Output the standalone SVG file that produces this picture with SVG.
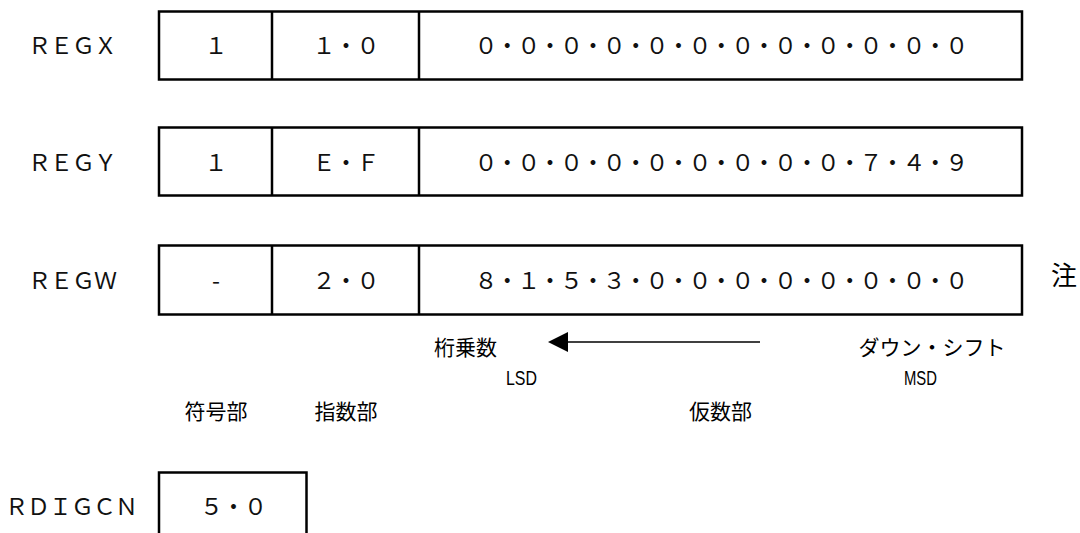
<svg xmlns="http://www.w3.org/2000/svg" width="1080" height="533" viewBox="0 0 1080 533">
<style>
.bg{fill:#fff}
.cell{fill:#fff;stroke:#000;stroke-width:2.5}
.t{font-family:"Noto Sans CJK JP","Noto Sans",sans-serif;font-size:23px;letter-spacing:-1px;fill:#111}
.m{letter-spacing:-1.6px}
.c{text-anchor:middle}
.lbl{font-family:"Noto Sans CJK JP",sans-serif;font-size:21px;fill:#000;text-anchor:middle}
.sd{font-family:"Liberation Sans",sans-serif;font-size:21px;fill:#000}
.conn{stroke:#000;stroke-width:1.5;fill:none}
</style>
<rect class="bg" x="0" y="0" width="1080" height="533"/>

<g id="regx">
<text class="t" x="28" y="54">ＲＥＧＸ</text>
<rect class="cell" x="159" y="11.5" width="863" height="68"/>
<line class="cell" x1="272" y1="11.5" x2="272" y2="79.5"/>
<line class="cell" x1="419" y1="11.5" x2="419" y2="79.5"/>
<text class="t c" x="215.5" y="54">１</text>
<text class="t c" x="345.5" y="54">１・０</text>
<text class="t c m" x="720.5" y="54">０・０・０・０・０・０・０・０・０・０・０・０</text>
</g>

<g id="regy">
<text class="t" x="28" y="171">ＲＥＧＹ</text>
<rect class="cell" x="159" y="127.5" width="863" height="68"/>
<line class="cell" x1="272" y1="127.5" x2="272" y2="195.5"/>
<line class="cell" x1="419" y1="127.5" x2="419" y2="195.5"/>
<text class="t c" x="215.5" y="171">１</text>
<text class="t c" x="345.5" y="171">Ｅ・Ｆ</text>
<text class="t c m" x="720.5" y="171">０・０・０・０・０・０・０・０・０・７・４・９</text>
</g>

<g id="regw">
<text class="t" x="28" y="289">ＲＥＧＷ</text>
<rect class="cell" x="159" y="245.5" width="863" height="69"/>
<line class="cell" x1="272" y1="245.5" x2="272" y2="314.5"/>
<line class="cell" x1="419" y1="245.5" x2="419" y2="314.5"/>
<text class="t c" x="215.5" y="289">-</text>
<text class="t c" x="345.5" y="289">２・０</text>
<text class="t c m" x="720.5" y="289">８・１・５・３・０・０・０・０・０・０・０・０</text>
<text class="lbl" x="1064" y="285" style="font-size:26px">注</text>
</g>

<g id="shift-labels">
<text class="lbl" x="465.5" y="355">桁乗数</text>
<text class="lbl" x="932" y="355">ダウン・シフト</text>
<text class="sd" x="506" y="385" textLength="31" lengthAdjust="spacingAndGlyphs">LSD</text>
<text class="sd" x="904" y="385" textLength="33" lengthAdjust="spacingAndGlyphs">MSD</text>
</g>

<g id="part-labels">
<text class="lbl" x="216" y="419">符号部</text>
<text class="lbl" x="346" y="419">指数部</text>
<text class="lbl" x="720.5" y="419">仮数部</text>
</g>

<g id="rdigcn">
<text class="t" x="5" y="515">ＲＤＩＧＣＮ</text>
<rect class="cell" x="159" y="472.5" width="147.5" height="80"/>
<text class="t c" x="233" y="515">５・０</text>
</g>

<g id="connectors">
<line class="conn" x1="566" y1="342" x2="760" y2="342"/>
<polygon points="548,342 568,332 568,352" fill="#000"/>
</g>
</svg>
